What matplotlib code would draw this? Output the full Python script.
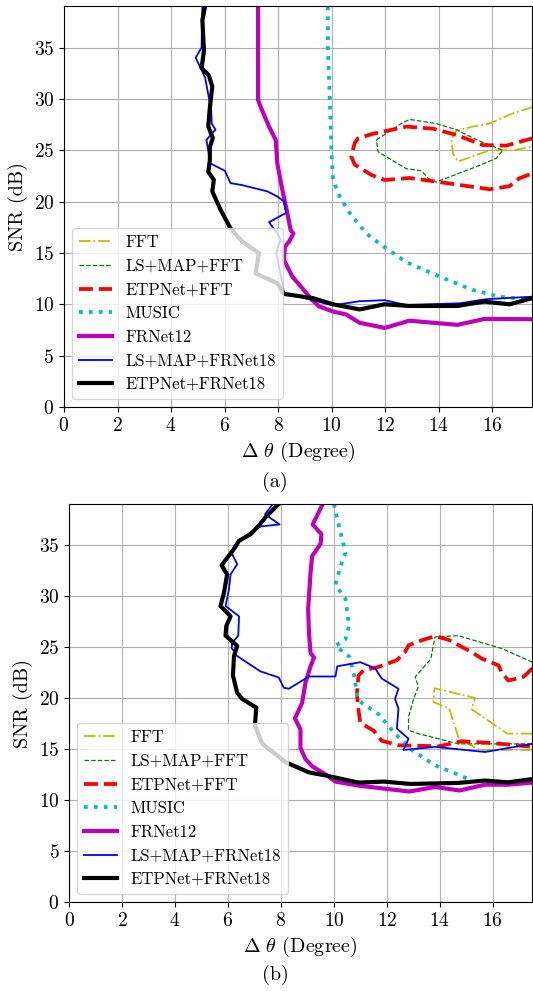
import matplotlib
matplotlib.use('Agg')
import matplotlib.pyplot as plt

plt.rcParams['font.family'] = 'serif'
plt.rcParams['font.serif'] = ['cmr10']
plt.rcParams['mathtext.fontset'] = 'cm'
plt.rcParams['axes.formatter.use_mathtext'] = True

labels = ['FFT', 'LS+MAP+FFT', 'ETPNet+FFT', 'MUSIC', 'FRNet12',
          'LS+MAP+FRNet18', 'ETPNet+FRNet18']

# ---- panel (a) ----
fft_a_x = [17.5, 16.77, 15.9, 15.27, 14.65, 14.47, 14.53, 14.71, 15.27, 15.9, 16.77, 17.5]
fft_a_y = [29.2, 28.6, 27.6, 27.3, 26.9, 26.0, 24.7, 23.9, 24.4, 25.0, 25.0, 25.35]

ls_fft_a_x = [11.67, 12.6, 12.91, 13.9, 14.65, 15.52, 16.39, 16.14, 15.4, 13.9, 13.6, 13.35, 12.79, 11.73, 11.67]
ls_fft_a_y = [26.0, 27.6, 28.0, 27.6, 27.0, 25.9, 25.0, 24.2, 23.4, 21.9, 22.27, 23.0, 23.2, 24.85, 26.0]

etp_fft_a_x = [17.5, 16.52, 15.65, 14.65, 13.78, 12.79, 11.54, 10.98, 10.86, 10.73, 10.86, 11.48,
               11.98, 12.91, 14.03, 15.9, 16.64, 17.01, 17.5]
etp_fft_a_y = [26.16, 25.45, 25.5, 26.5, 27.1, 27.3, 26.6, 26.16, 25.7, 24.4, 23.6, 22.6,
               22.1, 22.3, 21.9, 21.2, 21.5, 22.27, 22.75]

music_a_x = [9.86, 9.86, 9.93, 9.99, 10.05, 10.3, 10.67, 11.29, 11.95, 12.79, 14.03, 15.27, 16.27, 17.26]
music_a_y = [39.0, 35.0, 29.9, 25.0, 22.1, 20.5, 18.9, 16.9, 15.6, 14.1, 12.7, 11.4, 10.74, 10.5]

frnet_a_x = [7.25, 7.25, 7.35, 7.66, 7.91, 7.97, 8.13, 8.34, 8.47, 8.57, 8.41, 8.25, 8.22, 8.53,
             9.28, 9.52, 10.05, 10.55, 11.04, 11.98, 12.9, 14.7, 15.7, 17.5]
frnet_a_y = [39.0, 29.9, 29.2, 27.3, 26.0, 23.7, 21.5, 18.9, 17.2, 16.9, 16.1, 15.6, 14.3, 12.7,
             10.4, 9.8, 9.3, 9.0, 8.2, 7.7, 8.4, 8.0, 8.57, 8.55]

ls_fr_a_x = [5.17, 5.14, 4.92, 5.27, 5.5, 5.52, 5.66, 5.52, 5.32, 5.48, 6.01, 6.22, 6.66, 7.59,
             7.97, 8.22, 8.3, 7.66, 7.97, 8.09, 7.93, 8.15, 8.22, 10.05, 11.04, 11.98, 12.79,
             14.8, 15.77, 17.5]
ls_fr_a_y = [39.0, 35.0, 34.0, 32.1, 28.9, 27.6, 27.0, 26.6, 26.0, 23.7, 23.0, 21.8, 21.6, 21.0,
             20.5, 20.0, 18.9, 18.0, 16.9, 16.3, 15.0, 12.2, 11.1, 9.9, 10.3, 10.4, 9.93,
             10.1, 10.5, 10.74]

etp_fr_a_x = [5.27, 5.17, 5.23, 5.14, 5.41, 5.54, 5.44, 5.39, 5.56, 5.45, 5.45, 5.39, 5.6, 5.54,
              5.85, 6.22, 6.66, 7.28, 7.16, 7.97, 8.19, 8.25, 9.3, 10.05, 11.04, 11.98, 12.9,
              14.7, 15.7, 16.64, 17.5]
etp_fr_a_y = [39.0, 37.66, 34.7, 33.0, 32.3, 31.2, 28.9, 27.3, 26.2, 25.3, 24.0, 22.9, 22.1, 21.0,
              19.2, 17.4, 16.1, 15.0, 13.0, 12.05, 11.1, 11.0, 10.6, 10.0, 9.5, 10.0, 9.84,
              9.84, 10.26, 10.0, 10.6]

# ---- panel (b) ----
fft_b_x = [17.5, 16.55, 15.2, 15.33, 13.8, 13.76, 14.36, 14.72, 15.5, 17.5]
fft_b_y = [16.5, 16.5, 18.9, 20.0, 20.95, 19.6, 18.95, 16.0, 14.9, 14.9]

ls_fft_b_x = [17.5, 16.34, 14.7, 13.82, 13.66, 13.07, 13.19, 13.0, 12.82, 12.82, 13.19, 13.95,
              14.7, 15.71, 17.5]
ls_fft_b_y = [23.5, 24.84, 26.1, 25.98, 23.8, 22.06, 21.1, 19.8, 18.14, 16.83, 16.5, 16.0,
              15.5, 15.5, 15.5]

etp_fft_b_x = [17.5, 17.16, 16.59, 16.34, 16.21, 15.58, 15.2, 14.83, 14.33, 13.82, 13.32, 12.82,
               12.69, 12.38, 11.69, 11.12, 10.93, 10.87, 10.93, 11.0, 11.5, 11.81, 12.44, 13.95,
               14.83, 15.84, 16.72, 17.5]
etp_fft_b_y = [22.9, 22.06, 21.7, 22.5, 23.2, 23.86, 24.5, 25.0, 25.7, 26.05, 25.65, 25.16,
               24.5, 23.7, 23.04, 22.7, 22.2, 20.4, 18.8, 17.55, 16.8, 15.8, 15.36, 15.26,
               15.75, 15.6, 15.4, 15.2]

music_b_x = [10.0, 10.19, 10.32, 10.44, 10.25, 10.06, 10.44, 10.57, 10.44, 10.06, 10.6, 10.8,
             10.85, 10.95, 11.69, 12.31, 12.94, 13.82, 14.58, 15.21]
music_b_y = [39.0, 36.9, 35.5, 34.25, 32.9, 31.1, 29.7, 27.1, 25.75, 25.1, 24.0, 21.8,
             20.5, 19.7, 18.4, 16.5, 14.9, 13.4, 12.6, 11.9]

frnet_b_x = [9.58, 9.2, 9.53, 9.5, 9.18, 9.12, 9.03, 9.06, 9.12, 9.25, 9.12, 8.93, 8.8, 8.53,
             8.74, 8.74, 8.93, 9.18, 9.69, 10.06, 10.94, 12.85, 13.83, 14.75, 15.71, 16.59, 17.5]
frnet_b_y = [39.0, 37.0, 36.05, 35.1, 33.9, 32.3, 28.7, 26.4, 24.4, 23.95, 23.1, 21.5, 19.5, 18.0,
             16.9, 15.1, 14.0, 13.3, 12.5, 11.8, 11.4, 10.83, 11.27, 10.93, 11.5, 11.5, 11.7]

ls_fr_b_x = [7.7, 7.4, 7.95, 7.23, 6.9, 6.42, 6.23, 6.16, 6.35, 6.1, 6.04, 5.91, 6.42, 6.39,
             6.16, 6.14, 6.35, 7.23, 7.92, 8.11, 8.3, 9.06, 10.06, 10.13, 11.0, 11.56, 11.81,
             12.44, 12.31, 12.44, 12.38, 12.82, 12.63, 13.82, 15.71, 16.97, 17.5]
ls_fr_b_y = [39.0, 38.0, 37.0, 36.8, 36.3, 35.4, 34.9, 34.1, 33.1, 32.1, 30.65, 29.0, 28.0, 26.1,
             25.4, 24.9, 24.1, 22.6, 22.0, 21.0, 20.9, 22.1, 22.1, 23.1, 23.5, 22.9, 21.9,
             20.9, 19.9, 18.95, 17.0, 16.0, 14.9, 15.2, 14.7, 15.26, 15.5]

etp_fr_b_x = [7.92, 7.42, 7.17, 6.86, 6.42, 6.23, 5.76, 5.97, 5.85, 5.72, 6.1, 5.94, 5.91, 6.35,
              6.23, 6.19, 6.35, 6.54, 7.07, 7.02, 7.3, 8.18, 9.06, 9.69, 10.94, 11.88, 12.89,
              14.7, 15.71, 16.59, 17.5]
etp_fr_b_y = [39.0, 37.7, 36.9, 36.05, 35.4, 34.6, 33.0, 32.1, 30.3, 29.0, 28.0, 27.05, 26.1, 25.1,
              24.1, 22.2, 20.5, 19.9, 19.05, 17.3, 15.5, 13.7, 12.7, 12.4, 11.7, 11.8, 11.57,
              11.67, 11.9, 11.73, 12.05]

styles = [dict(color='y', ls='-.', lw=1.3),
          dict(color='g', ls='--', lw=0.9),
          dict(color='r', ls='--', lw=2.7),
          dict(color='c', ls=':', lw=2.7),
          dict(color='m', ls='-', lw=3.0),
          dict(color='b', ls='-', lw=1.3),
          dict(color='k', ls='-', lw=3.0)]

panel_a = [(fft_a_x, fft_a_y), (ls_fft_a_x, ls_fft_a_y), (etp_fft_a_x, etp_fft_a_y),
           (music_a_x, music_a_y), (frnet_a_x, frnet_a_y), (ls_fr_a_x, ls_fr_a_y),
           (etp_fr_a_x, etp_fr_a_y)]
panel_b = [(fft_b_x, fft_b_y), (ls_fft_b_x, ls_fft_b_y), (etp_fft_b_x, etp_fft_b_y),
           (music_b_x, music_b_y), (frnet_b_x, frnet_b_y), (ls_fr_b_x, ls_fr_b_y),
           (etp_fr_b_x, etp_fr_b_y)]

fig = plt.figure(figsize=(5.33, 9.91), dpi=100)
ax_a = fig.add_axes([0.120, 0.5893, 0.879, 0.4042])
ax_b = fig.add_axes([0.1295, 0.0898, 0.8695, 0.4016])

for ax, data, tag, ty in [(ax_a, panel_a, '(a)', 0.5136), (ax_b, panel_b, '(b)', 0.0161)]:
    for (xs, ys), st, lab in zip(data, styles, labels):
        ax.plot(xs, ys, label=lab, **st)
    ax.set_xlim(0, 17.5)
    ax.set_ylim(0, 39)
    ax.set_xticks(range(0, 17, 2))
    ax.set_yticks(range(0, 36, 5))
    ax.grid(True)
    ax.tick_params(labelsize=14)
    ax.set_xlabel(r'$\Delta\ \theta$ (Degree)', fontsize=14.5)
    ax.set_ylabel('SNR (dB)', fontsize=14.5)
    ax.legend(loc='lower left', fontsize=12)
    fig.text(0.516, ty, tag, ha='center', va='center', fontsize=14.5)

fig.savefig('out.png', dpi=100)
